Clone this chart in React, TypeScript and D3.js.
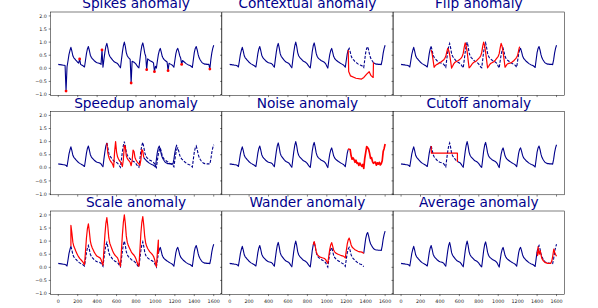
import React from 'react';
import * as d3 from 'd3';

// base signal, one value every 10 steps from t=0 to t=1600
const tStep = 10;
const baseValues = [
  0.15, 0.14, 0.14, 0.13, 0.13, 0.12, 0.12, 0.11, 0.09, 0.05,
  0.28, 0.52, 0.68, 0.80,
  0.66, 0.48, 0.40, 0.36, 0.31, 0.27, 0.23, 0.20, 0.17, 0.15, 0.13, 0.11, 0.08, 0.05,
  0.30, 0.56, 0.74, 0.83,
  0.68, 0.50, 0.42, 0.37, 0.33, 0.29, 0.26, 0.23, 0.21, 0.20, 0.19, 0.18, 0.15, 0.09, 0.04,
  0.34, 0.62, 0.84, 0.95,
  0.78, 0.56, 0.46, 0.41, 0.36, 0.31, 0.27, 0.24, 0.22, 0.20, 0.18, 0.13, 0.07, 0.02,
  0.32, 0.62, 0.86, 1.00,
  0.84, 0.60, 0.48, 0.42, 0.38, 0.34, 0.30, 0.27, 0.25, 0.23, 0.20, 0.16, 0.10, 0.05, 0.02,
  0.32, 0.64, 0.86, 0.97,
  0.80, 0.58, 0.46, 0.40, 0.36, 0.33, 0.30, 0.28, 0.26, 0.24, 0.21, 0.16, 0.08, 0.01,
  0.28, 0.52, 0.68, 0.76,
  0.62, 0.46, 0.38, 0.33, 0.30, 0.27, 0.24, 0.22, 0.19, 0.17, 0.15, 0.13, 0.09, 0.04,
  0.30, 0.55, 0.70, 0.76,
  0.64, 0.48, 0.39, 0.34, 0.30, 0.26, 0.23, 0.20, 0.17, 0.15, 0.13, 0.12, 0.10, 0.07, 0.03,
  0.32, 0.60, 0.76, 0.83,
  0.70, 0.52, 0.40, 0.33, 0.27, 0.22, 0.19, 0.17, 0.16, 0.16, 0.15, 0.15, 0.15, 0.14,
  0.32, 0.58, 0.76, 0.88,
];

const spikeTimes = [80, 220, 450, 750, 910, 990, 1130, 1270, 1560];
const spikeValues = [-0.87, 0.36, 0.70, -0.56, -0.05, -0.13, -0.09, 0.15, -0.03];

const contextTimes = [1220, 1225, 1244, 1300, 1357, 1381, 1410, 1436, 1455, 1477, 1480];
const contextValues = [0.70, -0.12, -0.29, -0.38, -0.41, -0.35, -0.22, -0.13, -0.28, -0.35, 0.22];

const flipRange = [310, 1220];

const speedupRange = [500, 880];
const speedupFactor = 2;

const noiseStart = 1220;
const noiseValues = [
  0.03, -0.05, 0.06, -0.02, -0.06, 0.04, 0.01, -0.05, 0.06, -0.03,
  0.02, -0.06, 0.05, -0.01, -0.04, 0.06, -0.05, 0.03, -0.02, 0.05,
  -0.06, 0.01, 0.04, -0.04, 0.06, -0.03, -0.05, 0.02, 0.05, -0.06,
  0.03, -0.01, 0.06, -0.04, 0.02, -0.05, 0.04, -0.02, 0.03,
];

const cutoffTimes = [310, 312, 580, 580];
const cutoffValues = [0.83, 0.56, 0.56, 0.22];

const scaleRange = [130, 1030];
const scaleFactor = 2;

const wanderRange = [860, 1380];
const wanderShift = 0.5;

const averageTimes = [1400, 1405, 1410, 1422, 1432, 1448, 1460, 1480, 1510, 1540, 1552, 1562, 1572, 1582, 1592, 1600];
const averageValues = [0.60, 0.45, 0.78, 0.50, 0.64, 0.35, 0.27, 0.19, 0.15, 0.15, 0.25, 0.45, 0.70, 0.56, 0.48, 0.42];

const titles = [
  'Spikes anomaly', 'Contextual anomaly', 'Flip anomaly',
  'Speedup anomaly', 'Noise anomaly', 'Cutoff anomaly',
  'Scale anomaly', 'Wander anomaly', 'Average anomaly',
];
const yTicks = [-1, -0.5, 0, 0.5, 1, 1.5, 2];
const xTicks = [0, 200, 400, 600, 800, 1000, 1200, 1400, 1600];

type Pt = [number, number];

const baseAt = (t: number) => baseValues[Math.round(t / tStep)];
const span = (t0: number, t1: number): Pt[] =>
  d3.range(t0, t1 + 1, tStep).map((t) => [t, baseAt(t)] as Pt);
const zip = (ts: number[], vs: number[]): Pt[] => ts.map((t, i) => [t, vs[i]] as Pt);

interface PanelData {
  solid: Pt[][];
  dashed: Pt[][];
  red: Pt[][];
  redWidth?: number;
  dots?: Pt[];
}

function buildPanels(): PanelData[] {
  const spiked = span(0, 1600).map(([t, v]) => {
    const k = spikeTimes.indexOf(t);
    return [t, k >= 0 ? spikeValues[k] : v] as Pt;
  });

  const [f0, f1] = flipRange;
  const [s0, s1] = speedupRange;
  const shift = (s1 - s0) * (speedupFactor - 1);
  const [c0, c1] = scaleRange;
  const [w0, w1] = wanderRange;

  return [
    { solid: [spiked], dashed: [], red: [], dots: zip(spikeTimes, spikeValues) },
    {
      solid: [span(0, 1220), span(1480, 1600)],
      dashed: [span(1220, 1480)],
      red: [zip(contextTimes, contextValues)],
    },
    {
      solid: [span(0, f0), span(f1, 1600)],
      dashed: [span(f0, f1)],
      red: [d3.range(f0, f1 + 1, tStep).map((t) => [t, baseAt(f0 + f1 - t)] as Pt)],
    },
    {
      solid: [span(0, s0), d3.range(s1, 1600 - shift + 1, tStep).map((t) => [t, baseAt(t + shift)] as Pt)],
      dashed: [span(s0, 1600)],
      red: [d3.range(s0, s1 + 1, tStep).map((t) => [t, baseAt(s0 + speedupFactor * (t - s0))] as Pt)],
    },
    {
      solid: [span(0, noiseStart)],
      dashed: [],
      red: [d3.range(noiseStart, 1601, tStep).map((t, i) => [t, baseAt(t) + noiseValues[i]] as Pt)],
      redWidth: 1.7,
    },
    {
      solid: [span(0, 310), span(580, 1600)],
      dashed: [span(310, 580)],
      red: [zip(cutoffTimes, cutoffValues)],
    },
    {
      solid: [span(0, c0), span(c1, 1600)],
      dashed: [span(c0, c1)],
      red: [[
        [c0, baseAt(c0)] as Pt,
        ...span(c0, c1).map(([t, v]) => [t, v * scaleFactor] as Pt),
        [c1, baseAt(c1)] as Pt,
      ]],
    },
    {
      solid: [span(0, w0), span(w1, 1600).map(([t, v]) => [t, v + wanderShift] as Pt)],
      dashed: [span(w0, w1)],
      red: [span(w0, w1).map(([t, v]) => [t, v + (wanderShift * (t - w0)) / (w1 - w0)] as Pt)],
    },
    {
      solid: [span(0, 1400)],
      dashed: [span(1400, 1600)],
      red: [zip(averageTimes, averageValues)],
    },
  ];
}

const W = 598;
const H = 308;
const colLeft = [50.5, 221.9, 393.3];
const rowTop = [12, 111.5, 211];
const pw = 171;
const ph = 83.3;
const blue = '#00008b';
const font = 'DejaVu Sans, sans-serif';

function Panel({ data, title, row, col }: { data: PanelData; title: string; row: number; col: number }) {
  const left = colLeft[col];
  const top = rowTop[row];
  const x = d3.scaleLinear().domain([-80, 1680]).range([left, left + pw]);
  const y = d3.scaleLinear().domain([-1.03, 2.15]).range([top + ph, top]);
  const line = d3
    .line<Pt>()
    .x((d) => x(d[0]))
    .y((d) => y(d[1]));
  const bottom = top + ph;

  return (
    <g>
      <rect x={left} y={top} width={pw} height={ph} fill="white" />
      {data.dashed.map((s, i) => (
        <path key={'d' + i} d={line(s) || ''} fill="none" stroke={blue} strokeWidth={1.1} strokeDasharray="3,1.5" />
      ))}
      {data.solid.map((s, i) => (
        <path key={'s' + i} d={line(s) || ''} fill="none" stroke={blue} strokeWidth={1.1} strokeLinejoin="round" />
      ))}
      {data.red.map((s, i) => (
        <path key={'r' + i} d={line(s) || ''} fill="none" stroke="red" strokeWidth={data.redWidth || 1.2} strokeLinejoin="round" />
      ))}
      {(data.dots || []).map((p, i) => (
        <circle key={'c' + i} cx={x(p[0])} cy={y(p[1])} r={1.4} fill="red" />
      ))}
      <rect x={left} y={top} width={pw} height={ph} fill="none" stroke="#000" strokeWidth={0.5} />
      {yTicks.map((t) => (
        <g key={'y' + t}>
          <line x1={left - 1.8} x2={left} y1={y(t)} y2={y(t)} stroke="#000" strokeWidth={0.5} />
          {col === 0 && (
            <text x={left - 3.6} y={y(t)} dy="0.35em" textAnchor="end" fontSize={4.8} fontFamily={font} fill="#222">
              {d3.format('.1f')(t).replace('-', '\u2212')}
            </text>
          )}
        </g>
      ))}
      {xTicks.map((t) => (
        <g key={'x' + t}>
          <line x1={x(t)} x2={x(t)} y1={bottom} y2={bottom + 1.8} stroke="#000" strokeWidth={0.5} />
          {row === 2 && (
            <text x={x(t)} y={bottom + 8.2} textAnchor="middle" fontSize={4.8} fontFamily={font} fill="#222">
              {t}
            </text>
          )}
        </g>
      ))}
      <text x={left + pw / 2} y={top - 3.6} textAnchor="middle" fontSize={13.7} fontFamily={font} fill={blue}>
        {title}
      </text>
    </g>
  );
}

export default function App() {
  const panels = buildPanels();
  return (
    <svg
      width={W}
      height={H}
      style={{ position: 'absolute', left: 0, top: 0, background: 'white' }}
    >
      {panels.map((p, i) => (
        <Panel key={i} data={p} title={titles[i]} row={Math.floor(i / 3)} col={i % 3} />
      ))}
    </svg>
  );
}
